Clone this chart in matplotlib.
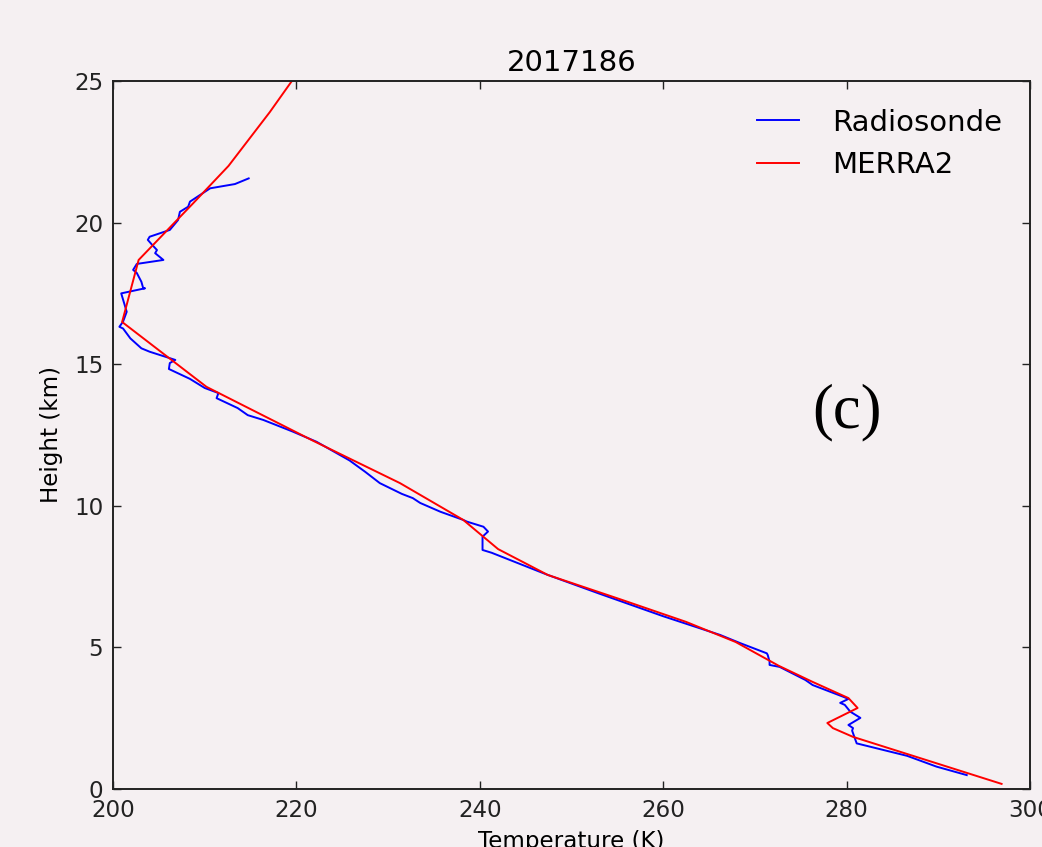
#!/usr/bin/env python3
import matplotlib
matplotlib.use('Agg')
import matplotlib.pyplot as plt

# Radiosonde profile (temperature K, height km)
sonde_temp = [293.1, 289.8, 286.6, 281.1, 280.9, 280.6, 280.7, 280.2, 281.5, 280.4,
              279.8, 279.3, 280.2, 279.6, 276.3, 275.5, 272.7, 271.6, 271.6, 271.4,
              271.3, 268.4, 266.2, 260.0, 253.1, 247.4, 241.3, 240.3, 240.3, 240.9,
              240.4, 238.6, 238.2, 235.7, 233.5, 232.7, 231.5, 229.1, 227.5, 225.8,
              222.2, 219.6, 216.4, 214.7, 213.6, 211.3, 211.5, 210.0, 208.4, 206.1,
              206.2, 206.8, 204.0, 203.1, 201.9, 201.1, 200.7, 201.1, 201.5, 200.9,
              203.5, 203.3, 203.1, 202.6, 202.2, 202.6, 205.5, 204.6, 204.8, 204.2,
              203.8, 204.0, 206.2, 207.1, 207.3, 208.2, 208.4, 210.6, 213.3, 214.8]
sonde_height = [0.49, 0.79, 1.17, 1.61, 1.79, 2.06, 2.15, 2.26, 2.51, 2.73,
                2.97, 3.04, 3.18, 3.26, 3.67, 3.85, 4.31, 4.38, 4.50, 4.73,
                4.79, 5.15, 5.44, 6.10, 6.89, 7.56, 8.34, 8.44, 8.91, 9.09,
                9.26, 9.44, 9.50, 9.79, 10.10, 10.27, 10.42, 10.80, 11.20, 11.60,
                12.26, 12.62, 13.03, 13.20, 13.45, 13.80, 13.98, 14.16, 14.48, 14.83,
                15.04, 15.15, 15.44, 15.56, 15.91, 16.26, 16.32, 16.50, 16.85, 17.50,
                17.68, 17.68, 17.91, 18.22, 18.33, 18.54, 18.68, 18.92, 19.03, 19.24,
                19.39, 19.50, 19.74, 20.09, 20.38, 20.56, 20.74, 21.21, 21.36, 21.56]

# MERRA2 profile on pressure levels
merra_temp = [296.9, 280.7, 278.5, 277.9, 281.2, 280.2, 276.3, 272.6, 267.9, 262.5,
              255.3, 247.4, 242.0, 238.2, 231.3, 221.8, 210.2, 201.0, 202.8, 208.8,
              212.6, 217.1, 222.8]
merra_height = [0.18, 1.84, 2.15, 2.33, 2.86, 3.21, 3.78, 4.35, 5.19, 5.90,
                6.70, 7.56, 8.47, 9.50, 10.80, 12.30, 14.20, 16.49, 18.68, 20.70,
                22.00, 23.90, 26.50]

title = '2017186'
panel_label = '(c)'
bg = '#f5f0f2'


def main():
    fig = plt.figure(figsize=(10.42, 8.47), dpi=100, facecolor=bg)
    ax = fig.add_axes([0.1084, 0.0685, 0.8801, 0.8359], facecolor=bg)

    ax.plot(sonde_temp, sonde_height, color='blue', lw=1.4, label='Radiosonde')
    ax.plot(merra_temp, merra_height, color='red', lw=1.4, label='MERRA2')

    ax.set_xlim(200, 300)
    ax.set_ylim(0, 25)
    ax.set_xticks(range(200, 301, 20))
    ax.set_yticks(range(0, 26, 5))
    ax.tick_params(direction='in', length=5.5, width=1.0, top=True, right=True,
                   labelsize=16.6, pad=7, colors='#222222')
    for s in ax.spines.values():
        s.set_linewidth(1.4)
        s.set_color('#222222')

    ax.set_xlabel('Temperature (K)', fontsize=16.6, labelpad=6)
    ax.set_ylabel('Height (km)', fontsize=16.6, labelpad=8)
    ax.set_title(title, fontsize=21, pad=7)

    ax.text(280, 13.3, panel_label, family='Liberation Serif', fontsize=45,
            ha='center', va='center')

    ax.legend(loc='upper right', frameon=False, fontsize=21, handlelength=1.44,
              handletextpad=1.13, borderaxespad=0.55, labelspacing=0.5)

    fig.savefig('out.png', dpi=100, facecolor=bg)
    plt.close(fig)


if __name__ == '__main__':
    main()
